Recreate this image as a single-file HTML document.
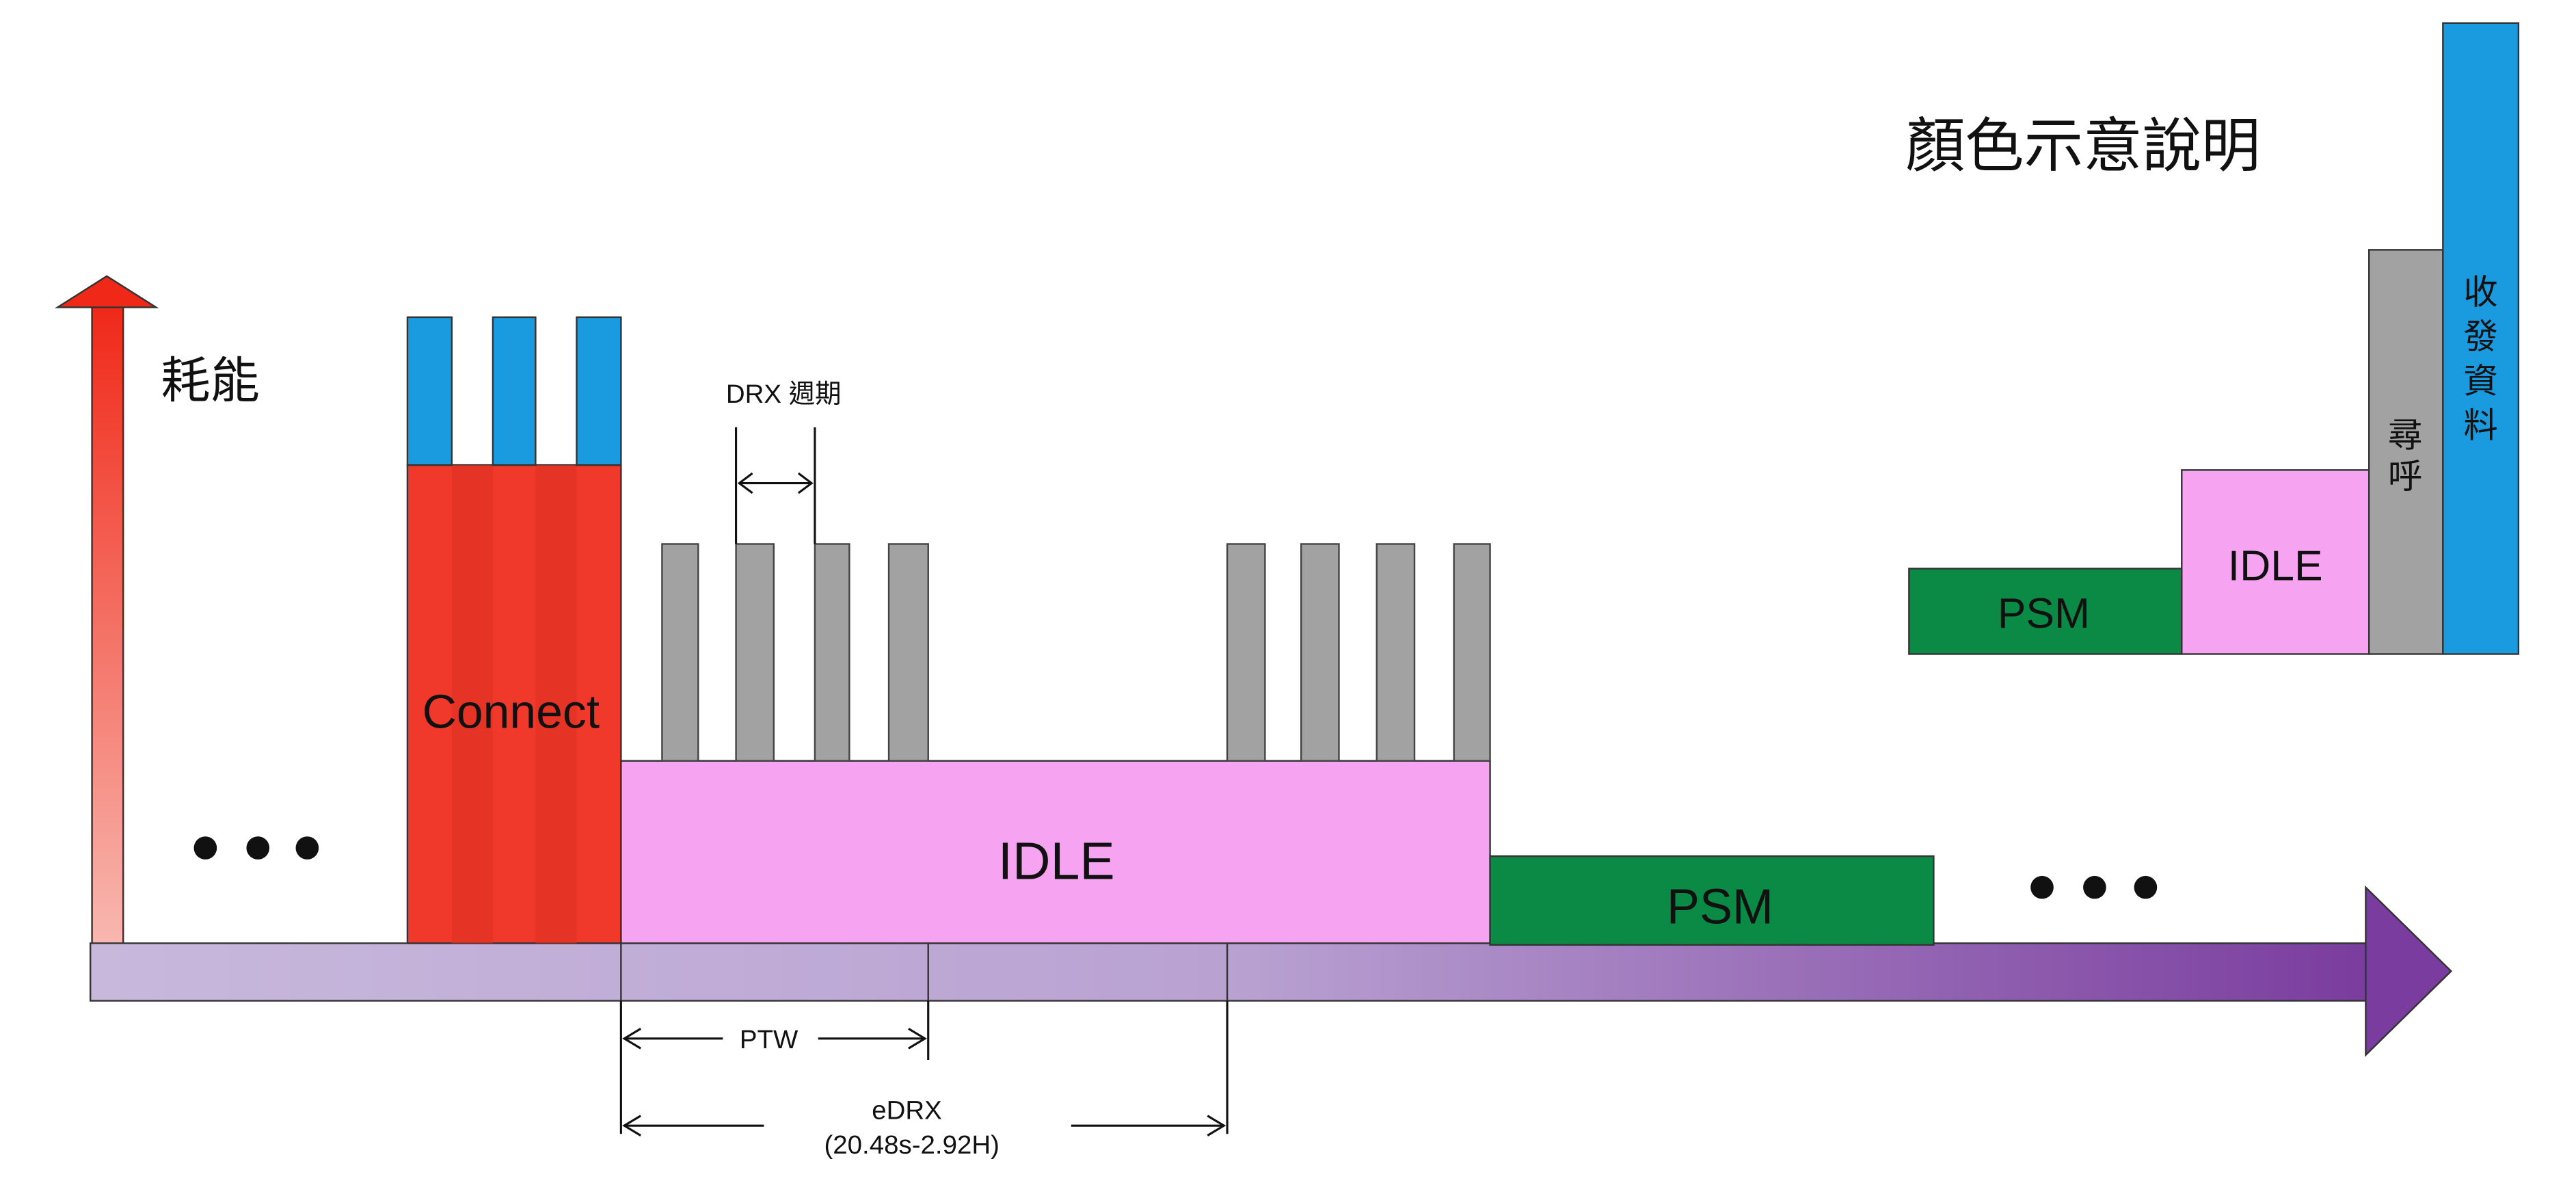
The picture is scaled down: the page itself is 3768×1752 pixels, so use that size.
<!DOCTYPE html>
<html><head><meta charset="utf-8"><style>
html,body{margin:0;padding:0;background:#fff;}
svg{display:block;}
text{font-family:"Liberation Sans","Noto Sans CJK TC",sans-serif;}
</style></head><body>
<svg width="3768" height="1752" viewBox="0 0 1568 729" xmlns="http://www.w3.org/2000/svg">
<defs>
<linearGradient id="gUp" x1="0" y1="0" x2="0" y2="1"><stop offset="0" stop-color="#f02818"/><stop offset="1" stop-color="#f8b8b0"/></linearGradient>
<linearGradient id="gAx" x1="0" y1="0" x2="1" y2="0"><stop offset="0" stop-color="#c8b8dc"/><stop offset="0.5" stop-color="#b9a2d2"/><stop offset="1" stop-color="#7a3c9e"/></linearGradient>
</defs>
<g>
<rect x="56" y="185" width="19" height="390" fill="url(#gUp)" stroke="#333" stroke-width="1"/>
<polygon points="35,187 65,168 95,187" fill="#f02818" stroke="#333" stroke-width="1"/>
</g>
<text x="98" y="242" font-size="30" fill="#111">耗能</text>
<g fill="#111"><circle cx="125" cy="516" r="7"/><circle cx="157" cy="516" r="7"/><circle cx="187" cy="516" r="7"/></g>
<g>
<rect x="55" y="574" width="1388" height="35" fill="url(#gAx)" stroke="#333" stroke-width="1"/>
<polygon points="1440,540 1492,591 1440,642" fill="#7a3c9e" stroke="#333" stroke-width="1"/>
<line x1="378" y1="574" x2="378" y2="609" stroke="#333"/><line x1="565" y1="574" x2="565" y2="609" stroke="#333"/><line x1="747" y1="574" x2="747" y2="609" stroke="#333"/>
</g>
<g>
<rect x="248" y="283" width="130" height="291" fill="#f0392a" stroke="#333"/>
<rect x="275" y="283" width="25" height="291" fill="#e03023" opacity="0.7"/>
<rect x="326" y="283" width="25" height="291" fill="#e03023" opacity="0.7"/>
<rect x="248" y="193" width="27" height="90" fill="#1a9be0" stroke="#333"/>
<rect x="300" y="193" width="26" height="90" fill="#1a9be0" stroke="#333"/>
<rect x="351" y="193" width="27" height="90" fill="#1a9be0" stroke="#333"/>
<text x="311" y="443" font-size="29" text-anchor="middle" fill="#111">Connect</text>
</g>
<g>
<rect x="378" y="463" width="529" height="111" fill="#f6a4f2" stroke="#333"/>
<text x="643" y="535" font-size="32" text-anchor="middle" fill="#111">IDLE</text>
</g>
<g fill="#a2a2a2" stroke="#444">
<rect x="403" y="331" width="22" height="132"/><rect x="448" y="331" width="23" height="132"/><rect x="496" y="331" width="21" height="132"/><rect x="541" y="331" width="24" height="132"/>
<rect x="747" y="331" width="23" height="132"/><rect x="792" y="331" width="23" height="132"/><rect x="838" y="331" width="23" height="132"/><rect x="885" y="331" width="22" height="132"/>
</g>
<g>
<rect x="907" y="521" width="270" height="54" fill="#0b8a46" stroke="#333"/>
<text x="1047" y="562" font-size="30" text-anchor="middle" fill="#111">PSM</text>
</g>
<g fill="#111"><circle cx="1243" cy="540" r="7"/><circle cx="1275" cy="540" r="7"/><circle cx="1306" cy="540" r="7"/></g>
<g stroke="#111" stroke-width="1.3" fill="none">
<line x1="448" y1="260" x2="448" y2="331"/><line x1="496" y1="260" x2="496" y2="331"/>
<line x1="450" y1="294" x2="494" y2="294"/><polyline points="458,288 450,294 458,300"/><polyline points="486,288 494,294 486,300"/>
</g>
<text x="477" y="245" font-size="16" text-anchor="middle" fill="#111">DRX 週期</text>
<g stroke="#111" stroke-width="1.3" fill="none">
<line x1="378" y1="609" x2="378" y2="690"/><line x1="565" y1="609" x2="565" y2="645"/><line x1="747" y1="609" x2="747" y2="690"/>
<line x1="380" y1="632" x2="440" y2="632"/><line x1="498" y1="632" x2="563" y2="632"/>
<polyline points="390,626 380,632 390,638"/><polyline points="553,626 563,632 553,638"/>
<line x1="380" y1="685" x2="465" y2="685"/><line x1="652" y1="685" x2="745" y2="685"/>
<polyline points="390,679 380,685 390,691"/><polyline points="735,679 745,685 735,691"/>
</g>
<text x="468" y="638" font-size="16" text-anchor="middle" fill="#111">PTW</text>
<text x="552" y="681" font-size="16" text-anchor="middle" fill="#111">eDRX</text>
<text x="555" y="702" font-size="16" text-anchor="middle" fill="#111">(20.48s-2.92H)</text>
<text x="1160" y="101" font-size="36" fill="#111">顏色示意說明</text>
<g>
<rect x="1162" y="346" width="166" height="52" fill="#0b8a46" stroke="#333"/>
<text x="1244" y="382" font-size="26" text-anchor="middle" fill="#111">PSM</text>
<rect x="1328" y="286" width="114" height="112" fill="#f6a4f2" stroke="#333"/>
<text x="1385" y="353" font-size="26" text-anchor="middle" fill="#111">IDLE</text>
<rect x="1442" y="152" width="45" height="246" fill="#a2a2a2" stroke="#333"/>
<text x="1464" y="272" font-size="21" text-anchor="middle" fill="#111">尋</text>
<text x="1464" y="297" font-size="21" text-anchor="middle" fill="#111">呼</text>
<rect x="1487" y="14" width="46" height="384" fill="#1a9be0" stroke="#333"/>
<text x="1510" y="185" font-size="21" text-anchor="middle" fill="#111">收</text>
<text x="1510" y="212" font-size="21" text-anchor="middle" fill="#111">發</text>
<text x="1510" y="239" font-size="21" text-anchor="middle" fill="#111">資</text>
<text x="1510" y="266" font-size="21" text-anchor="middle" fill="#111">料</text>
</g>
</svg>
</body></html>
